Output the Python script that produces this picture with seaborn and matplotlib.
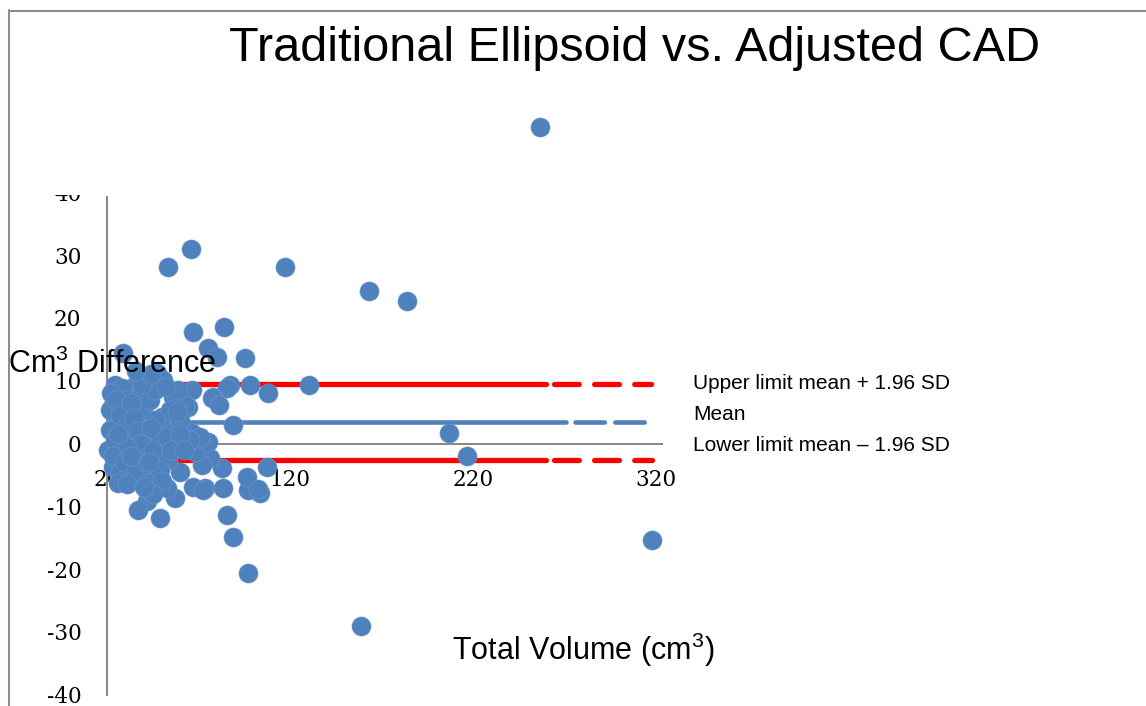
import matplotlib
matplotlib.use('Agg')
import matplotlib.pyplot as plt
import seaborn as sns
import pandas as pd
from matplotlib.lines import Line2D
from matplotlib.transforms import Bbox

# Bland-Altman plot: traditional ellipsoid vs adjusted CAD volumes

total_volume = [
    256.6, 66.0, 53.3, 117.3, 163.2, 183.9, 67.0, 83.9, 75.2, 80.1,
    95.4, 28.7, 87.2, 98.1, 108.0, 130.4, 88.9, 206.9, 216.7, 317.8,
    158.8, 97.0, 88.9, 85.6, 103.6, 97.0, 96.5, 83.4, 107.4, 73.6,
    67.0, 59.9, 57.2, 52.8, 41.9, 36.9, 49.0, 85.6, 77.9, 66.4,
    64.3, 82.8, 76.3, 71.9, 68.1, 75.2, 69.7, 64.3, 66.4, 57.2,
    62.6, 55.5, 50.1, 56.1, 47.9, 42.4, 47.3, 50.6, 34.2, 24.4,
    28.2, 22.7, 30.9, 39.7, 25.5, 21.6, 32.6, 41.9, 47.3, 20.5,
    27.1, 36.4, 41.9, 47.3, 28.7, 40.8, 41.9, 23.3, 27.1, 39.7,
    70.8, 65.4, 72.5, 102.5, 21.6, 24.4, 32.6, 38.0, 43.5, 35.3,
    49.0, 54.4, 59.9, 58.8, 53.3, 29.8, 46.2, 26.0, 41.9, 77.4,
    81.2, 49.0, 22.0, 25.0, 27.0, 30.0, 33.0, 35.0, 37.0, 38.0,
    31.0, 26.0, 23.0, 29.0, 33.0, 35.0, 31.0, 44.0, 45.0, 43.0,
    46.0, 52.0, 53.0, 55.0, 58.0, 60.0, 62.0, 39.0, 44.0, 36.0,
    50.0, 45.0, 40.0,
]
difference = [
    50.4, 31.0, 28.1, 28.1, 24.3, 22.7, 17.8, 18.5, 15.2, 13.8,
    13.6, 14.4, 9.3, 9.3, 8.0, 9.3, 2.9, 1.7, -2.0, -15.4,
    -29.1, -20.6, -14.9, -11.4, -7.9, -7.4, -5.3, -7.1, -3.7, -7.1,
    -6.9, -4.5, -8.7, -7.1, -9.2, -10.6, -11.9, 8.8, 7.4, 8.5,
    5.8, -3.9, -2.3, -3.4, -1.4, 0.2, 0.9, 0.2, 1.7, 2.6,
    6.1, 2.6, 4.2, 7.4, 9.6, 10.4, 11.2, 10.1, 9.0, 9.3,
    8.8, 5.8, 5.8, 5.3, 3.3, 2.1, 1.0, 1.0, 2.1, -1.0,
    -1.5, -2.6, -3.7, -1.5, -4.2, -5.8, -7.4, -3.7, -4.7, -4.2,
    1.0, 0.6, -7.4, -7.3, 5.3, 0.6, 3.7, 7.7, 6.9, -1.0,
    0.6, 5.3, 3.7, 8.5, -2.6, 6.9, 3.7, -6.3, -6.3, 7.2,
    6.1, -4.2, 8.0, 7.0, 4.5, 2.5, 6.5, 4.0, 2.0, 0.0,
    -0.5, 1.5, -2.0, -3.0, -2.0, -5.0, -6.5, 2.5, -1.0, -3.0,
    8.5, 9.0, 1.0, -1.0, 5.0, 1.5, -1.0, 9.5, 11.0, 11.5,
    -6.0, -8.0, -7.0,
]

mean_diff = 3.35
upper_limit = 9.4
lower_limit = -2.7

x_ticks = [20, 120, 220, 320]
y_ticks = [-40, -30, -20, -10, 0, 10, 20, 30, 40]
legend_labels = ['Upper limit mean + 1.96 SD', 'Mean', 'Lower limit mean \u2013 1.96 SD']

BLUE = '#4F81BD'
RED = '#FF0000'
GREY = '#868686'

sns.set_style('white')
plt.rcParams['font.family'] = ['Liberation Sans', 'DejaVu Sans']
plt.rcParams['mathtext.fontset'] = 'custom'
plt.rcParams['mathtext.rm'] = 'Liberation Sans'
plt.rcParams['mathtext.default'] = 'regular'
plt.rcParams['axes.unicode_minus'] = False
plt.rcParams['text.color'] = 'black'
plt.rcParams['axes.labelcolor'] = 'black'

fig = plt.figure(figsize=(11.46, 7.06), dpi=100)
ax = fig.add_axes([0.0934, 0.016, 0.4843, 0.7116])

df = pd.DataFrame({'volume': total_volume, 'diff': difference})
sns.scatterplot(data=df, x='volume', y='diff', ax=ax, s=190, color=BLUE,
                edgecolor='#6D9AD0', linewidth=0.4, zorder=3, clip_on=False,
                legend=False)

# limit lines: solid where the points are dense, dashed towards the end
handles = []
for val, col, lw, solid_end, dash_start, dash_end, dash in [
        (upper_limit, RED, 3.8, 260, 264.5, 317, (4.7, 2.9)),
        (mean_diff, BLUE, 3.3, 271, 275.5, 315.6, (6.4, 2.3)),
        (lower_limit, RED, 3.8, 260, 264.5, 318, (4.7, 2.9))]:
    h, = ax.plot([20, solid_end], [val, val], color=col, lw=lw,
                 solid_capstyle='round', zorder=2)
    ax.plot([dash_start, dash_end], [val, val], color=col, lw=lw,
            dashes=dash, dash_capstyle='round', zorder=2)
    handles.append(h)

ax.set_xlim(20, 323.3)
ax.set_ylim(-40, 40)
ax.set_xticks(x_ticks)
ax.set_yticks(y_ticks)

for side in ['top', 'right']:
    ax.spines[side].set_visible(False)
ax.spines['left'].set_color(GREY)
ax.spines['left'].set_linewidth(1.4)
ax.spines['left'].set_bounds(-40, 39.2)
ax.spines['bottom'].set_color(GREY)
ax.spines['bottom'].set_linewidth(1.4)
ax.spines['bottom'].set_position(('data', 0))

ax.tick_params(axis='y', direction='out', length=5.5, width=1, color=GREY,
               pad=13, labelsize=15.5, labelcolor='black',
               labelfontfamily='DejaVu Serif')
ax.tick_params(axis='x', direction='out', length=5, width=1, color=GREY,
               pad=13, labelsize=15.5, labelcolor='black',
               labelfontfamily='DejaVu Serif')

# the top of the plot area is cut off in the original: "40" only half shows
top_tick = ax.yaxis.get_major_ticks()[-1]
top_tick.tick1line.set_visible(False)
top_tick.label1.set_clip_box(Bbox.from_extents(0, 0, 1146, 706 - 195))
top_tick.label1.set_clip_on(True)

ax.set_ylabel('Cm$^{3}$ Difference', rotation=0, fontsize=22, ha='left',
              va='baseline')
ax.yaxis.set_label_coords(-0.178, 0.64)
ax.yaxis.set_zorder(4)
ax.set_xlabel('Total Volume (cm$^{3}$)', fontsize=22, ha='left', va='baseline')
ax.xaxis.set_label_coords(0.6216, 0.069)

fig.suptitle('Traditional Ellipsoid vs. Adjusted CAD', x=0.5537, y=0.932,
             va='center', fontsize=35, color='black')

leg = ax.legend(handles, legend_labels, loc='center left',
                bbox_to_anchor=(693 / 1146, 1 - 414.5 / 706),
                bbox_transform=fig.transFigure, frameon=False, fontsize=15,
                handlelength=0, handletextpad=0, borderpad=0,
                borderaxespad=0, labelspacing=0.58)
for lh in leg.legend_handles:
    lh.set_visible(False)

# chart-area border
fig.add_artist(Line2D([9 / 1146, 9 / 1146], [0, 1 - 10 / 706], color='#8C8C8C', lw=1.5))
fig.add_artist(Line2D([9 / 1146, 1], [1 - 10.5 / 706, 1 - 10.5 / 706], color='#8C8C8C', lw=1.5))

plt.savefig('out.png', dpi=100)
